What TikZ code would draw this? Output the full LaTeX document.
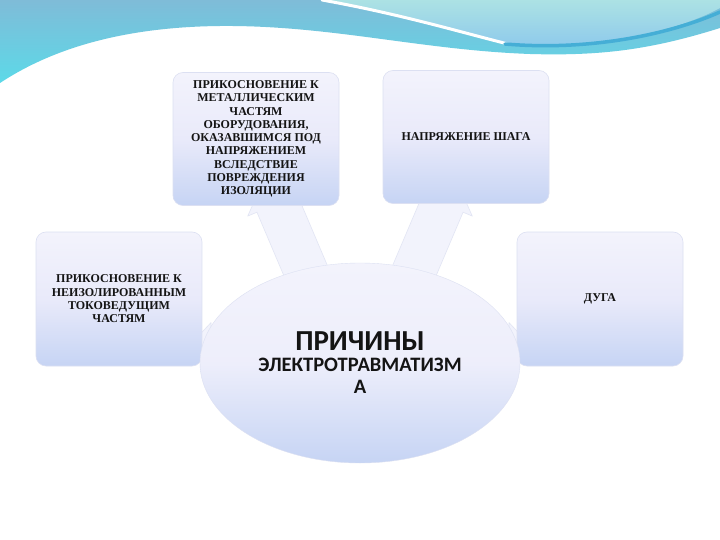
\documentclass[tikz,border=0pt]{standalone}
\usepackage{fontspec}
\setmainfont{Carlito}
\newfontfamily\boxfont{Liberation Serif}
\usetikzlibrary{shapes.geometric}
\definecolor{waveA}{HTML}{7FBCD8}
\definecolor{waveB}{HTML}{5CD9E8}
\definecolor{lightA}{HTML}{ACE2E4}
\definecolor{lightB}{HTML}{8CC8EC}
\definecolor{stripe}{HTML}{45AED6}
\definecolor{boxtop}{HTML}{F3F3FC}
\definecolor{boxmid}{HTML}{E9EAFA}
\definecolor{boxbot}{HTML}{C6D4F4}
\definecolor{boxline}{HTML}{DCE0F2}
\definecolor{arrowfill}{HTML}{F2F3FC}
\definecolor{arrowline}{HTML}{E2E5F4}
\definecolor{txt}{HTML}{141414}
\tikzset{
  causebox/.style={rounded corners=10pt, draw=boxline, line width=0.6pt,
    top color=boxtop, bottom color=boxbot, middle color=boxmid,
    minimum width=166pt, minimum height=133pt, inner sep=0pt,
    text=txt, align=center, font=\boxfont\fontsize{12}{13.3}\selectfont\bfseries},
  blockarrow/.style={fill=arrowfill, draw=arrowline, line width=0.6pt, line join=round},
  pics/fatarrow/.style={code={
    \path[blockarrow] (-#1,-22) -- (20,-22) -- (20,-32) -- (50,0) -- (20,32)
      -- (20,22) -- (-#1,22) -- cycle;}},
}
\begin{document}
\begin{tikzpicture}[x=1pt,y=-1pt]
\useasboundingbox (0,0) rectangle (720,540);
\fill[white] (0,0) rectangle (720,540);
% header wave
\path[top color=waveA, bottom color=waveB] (0,0) -- (720,0) -- (720,28)
  .. controls (650,50) and (600,56) .. (530,54)
  .. controls (420,50) and (330,25) .. (220,26)
  .. controls (120,27) and (50,50) .. (0,83) -- cycle;
\path[top color=lightA, bottom color=lightB] (322,0)
  .. controls (400,14) and (460,32) .. (510,44)
  .. controls (600,50) and (680,30) .. (720,8) -- (720,0) -- cycle;
\draw[white, line width=3pt, line cap=round] (322,0)
  .. controls (400,14) and (460,32) .. (508,44);
\draw[stripe, line width=3.5pt, line cap=round] (505,44)
  .. controls (600,52) and (680,30) .. (720,12);
% central ellipse coordinate
\coordinate (c) at (360,363);
% block arrows (behind boxes and ellipse)
\pic[rotate=113] (a1) at (285,222) {fatarrow=60};
\pic[rotate=67] (a2) at (435,222) {fatarrow=60};
\pic[rotate=180, scale=0.7] (a3) at (225,345) {fatarrow=30};
\pic[scale=0.7] (a4) at (495,345) {fatarrow=30};
% boxes
\node[causebox] (b1) at (256,139) {ПРИКОСНОВЕНИЕ К\\МЕТАЛЛИЧЕСКИМ\\ЧАСТЯМ\\ОБОРУДОВАНИЯ,\\ОКАЗАВШИМСЯ ПОД\\НАПРЯЖЕНИЕМ\\ВСЛЕДСТВИЕ\\ПОВРЕЖДЕНИЯ\\ИЗОЛЯЦИИ};
\node[causebox] (b2) at (466,137) {НАПРЯЖЕНИЕ ШАГА};
\node[causebox, minimum height=134pt] (b3) at (119,299) {ПРИКОСНОВЕНИЕ К\\НЕИЗОЛИРОВАННЫМ\\ТОКОВЕДУЩИМ\\ЧАСТЯМ};
\node[causebox, minimum height=134pt] (b4) at (600,299) {ДУГА};
% ellipse
\node[ellipse, minimum width=320pt, minimum height=200pt, inner sep=0pt,
  top color=boxtop, bottom color=boxbot, middle color=boxmid!80!white,
  draw=boxline, line width=0.4pt, align=center, text=txt] (e) at (c)
  {\fontsize{29}{30}\selectfont\bfseries ПРИЧИНЫ\\[6pt]
   \fontsize{20.5}{23}\selectfont\bfseries ЭЛЕКТРОТРАВМАТИЗМ\\[8pt]
   \fontsize{20.5}{23}\selectfont\bfseries А};
\end{tikzpicture}
\end{document}
